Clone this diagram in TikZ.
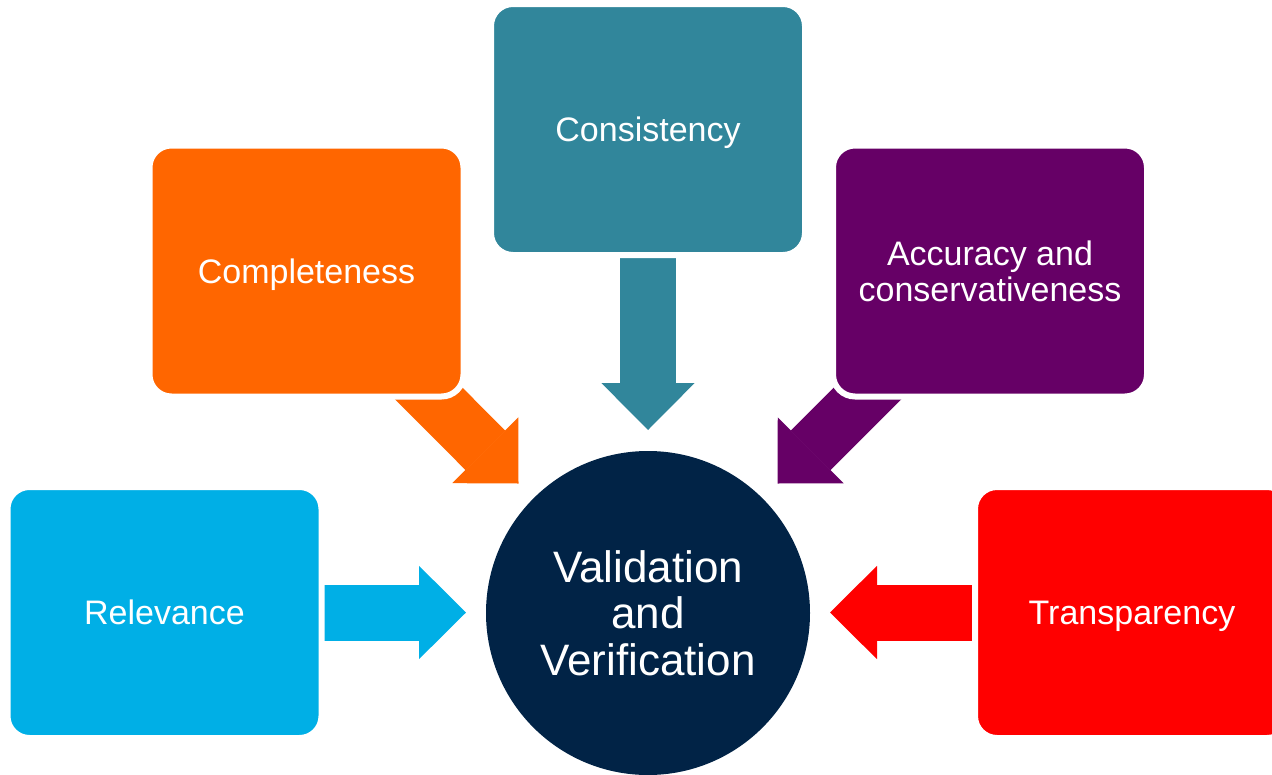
\documentclass[tikz,border=0pt]{standalone}
\usepackage{fontspec}
\setmainfont{Liberation Sans}
\usetikzlibrary{arrows.meta}
\pgfdeclarelayer{background}
\pgfsetlayers{background,main}
\definecolor{cTeal}{HTML}{31869B}
\definecolor{cOrange}{HTML}{FF6600}
\definecolor{cPurple}{HTML}{660066}
\definecolor{cSky}{HTML}{00AFE6}
\definecolor{cRed}{HTML}{FF0000}
\definecolor{cNavy}{HTML}{012346}
\tikzset{
  box/.style={rectangle, rounded corners=22pt, minimum width=314pt, minimum height=251pt,
    inner sep=0pt, draw=white, line width=6pt, text=white, align=center, text depth=0pt,
    font=\fontsize{34}{36}\selectfont},
  hub/.style={circle, minimum size=324pt, inner sep=0pt, fill=cNavy, text=white, align=center,
    font=\fontsize{44}{46.5}\selectfont},
  blockarrow/.style={draw=#1, line width=56pt, line cap=butt,
    -{Triangle[length=47pt, width=93pt, line width=1.5pt, fill=#1, color=#1]}}
}
\begin{document}
\begin{tikzpicture}[x=1pt, y=-1pt]
\useasboundingbox (0,0) rectangle (1272,774);
\clip (0,0) rectangle (1272,774);

\node[hub] (vv) at (648,613) {Validation\\and\\Verification};

\node[box, fill=cTeal]   (cons)  at (648,129.5) {Consistency};
\node[box, fill=cOrange] (comp)  at (306.5,271) {Completeness};
\node[box, fill=cPurple] (acc)   at (990,271)   {Accuracy and\\conservativeness};
\node[box, fill=cSky]    (rel)   at (164.5,612.5) {Relevance};
\node[box, fill=cRed]    (trans) at (1132,612.5) {Transparency};

\coordinate (tCons)  at (648,430);
\coordinate (tComp)  at (518.5,483.5);
\coordinate (tAcc)   at (777.5,483.5);
\coordinate (tRel)   at (466,612.5);
\coordinate (tTrans) at (830,612.5);

\begin{pgfonlayer}{background}
\draw[blockarrow=cTeal]   (cons.center)  -- (tCons);
\draw[blockarrow=cOrange] (comp.center)  -- (tComp);
\draw[blockarrow=cPurple] (acc.center)   -- (tAcc);
\draw[blockarrow=cSky]    (rel.center)   -- (tRel);
\draw[blockarrow=cRed]    (trans.center) -- (tTrans);
\end{pgfonlayer}
\end{tikzpicture}
\end{document}
